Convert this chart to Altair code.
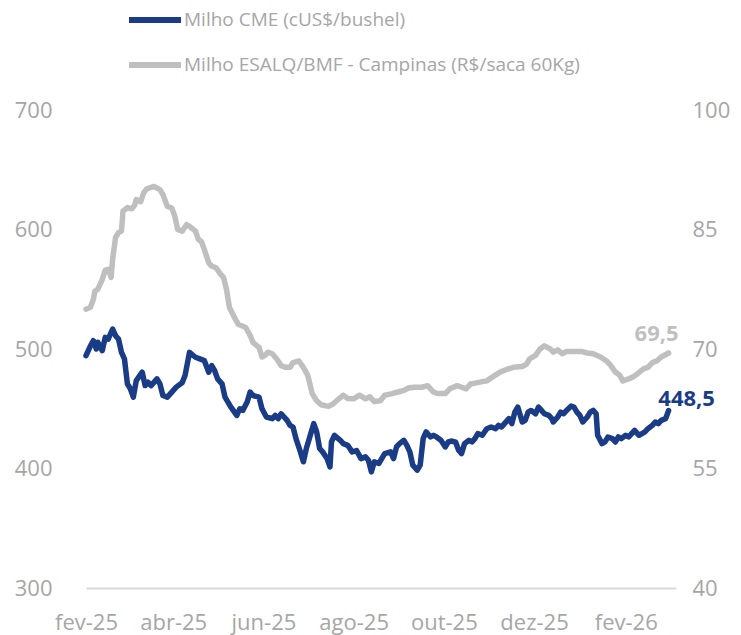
import altair as alt
import pandas as pd

# ---------------- data ----------------
series_names = ["Milho CME (cUS$/bushel)", "Milho ESALQ/BMF - Campinas (R$/saca 60Kg)"]
series_colors = ["#1A3C86", "#BFBFBF"]

cme_dates = [
    "2025-02-01", "2025-02-04", "2025-02-06", "2025-02-08", "2025-02-09", "2025-02-12", "2025-02-14",
    "2025-02-16", "2025-02-19", "2025-02-21", "2025-02-23", "2025-02-25", "2025-02-27",
    "2025-03-01", "2025-03-03", "2025-03-05", "2025-03-07", "2025-03-11", "2025-03-13", "2025-03-15",
    "2025-03-17", "2025-03-21", "2025-03-23", "2025-03-25", "2025-03-28", "2025-03-31",
    "2025-04-03", "2025-04-07", "2025-04-09", "2025-04-12", "2025-04-16", "2025-04-19", "2025-04-22",
    "2025-04-25", "2025-04-27", "2025-04-29",
    "2025-05-01", "2025-05-04", "2025-05-06", "2025-05-08", "2025-05-10", "2025-05-14", "2025-05-16",
    "2025-05-18", "2025-05-21", "2025-05-23", "2025-05-25", "2025-05-29", "2025-05-31",
    "2025-06-03", "2025-06-07", "2025-06-09", "2025-06-11", "2025-06-13", "2025-06-17", "2025-06-19",
    "2025-06-21", "2025-06-23", "2025-06-26", "2025-06-28", "2025-06-30",
    "2025-07-02", "2025-07-05", "2025-07-07", "2025-07-09", "2025-07-11", "2025-07-14", "2025-07-16",
    "2025-07-17", "2025-07-19", "2025-07-23", "2025-07-25", "2025-07-28", "2025-07-31",
    "2025-08-03", "2025-08-06", "2025-08-09", "2025-08-11", "2025-08-13", "2025-08-15", "2025-08-18",
    "2025-08-20", "2025-08-22", "2025-08-26", "2025-08-28", "2025-08-30",
    "2025-09-01", "2025-09-04", "2025-09-06", "2025-09-08", "2025-09-10", "2025-09-13", "2025-09-15",
    "2025-09-17", "2025-09-19", "2025-09-22", "2025-09-24", "2025-09-26", "2025-09-29",
    "2025-10-02", "2025-10-04", "2025-10-06", "2025-10-09", "2025-10-11", "2025-10-13", "2025-10-15",
    "2025-10-18", "2025-10-20", "2025-10-22", "2025-10-24", "2025-10-27", "2025-10-30",
    "2025-11-02", "2025-11-05", "2025-11-07", "2025-11-09", "2025-11-11", "2025-11-14", "2025-11-16",
    "2025-11-18", "2025-11-20", "2025-11-23", "2025-11-25", "2025-11-27", "2025-11-29",
    "2025-12-02", "2025-12-04", "2025-12-06", "2025-12-08", "2025-12-11", "2025-12-13", "2025-12-14",
    "2025-12-17", "2025-12-19", "2025-12-21", "2025-12-23", "2025-12-26", "2025-12-28", "2025-12-30",
    "2026-01-01", "2026-01-03", "2026-01-06", "2026-01-08", "2026-01-10", "2026-01-12", "2026-01-13",
    "2026-01-16", "2026-01-18", "2026-01-20", "2026-01-23", "2026-01-25", "2026-01-27", "2026-01-29",
    "2026-02-01", "2026-02-03", "2026-02-05", "2026-02-07", "2026-02-10", "2026-02-12", "2026-02-14",
    "2026-02-16", "2026-02-19", "2026-02-21", "2026-02-23", "2026-02-25", "2026-02-28",
    "2026-03-02",
]
cme_values = [
    494.4, 502.7, 506.9, 500.0, 505.6, 498.6, 509.7, 508.3, 516.7, 511.1, 508.3, 497.2, 491.7,
    470.8, 466.7, 459.7, 473.6, 480.6, 469.4, 472.2, 469.4, 475.0, 470.8, 461.1, 459.7, 463.9,
    468.1, 471.7, 477.8, 497.2, 493.1, 491.7, 490.3, 480.6, 486.1, 481.9,
    475.0, 470.8, 459.7, 455.6, 451.4, 444.4, 450.0, 448.6, 455.6, 463.9, 461.1, 459.7, 450.0,
    443.1, 441.7, 444.4, 441.7, 445.8, 440.3, 436.1, 434.7, 425.0, 413.9, 405.6, 416.7,
    425.0, 437.5, 430.6, 416.7, 413.9, 408.3, 401.4, 422.2, 427.8, 423.6, 420.8, 419.4, 413.9,
    415.0, 408.3, 409.7, 406.9, 397.2, 405.6, 404.2, 408.3, 412.5, 413.9, 408.3, 418.1,
    420.8, 423.6, 419.4, 413.9, 402.8, 398.6, 402.8, 425.0, 430.6, 426.4, 427.8, 426.4, 423.6,
    418.1, 422.2, 423.0, 422.0, 415.3, 412.5, 420.8, 423.6, 422.2, 425.0, 429.2, 427.8, 433.3,
    434.7, 433.3, 436.1, 434.7, 437.5, 441.7, 437.5, 447.2, 451.4, 438.9, 440.3, 447.2, 448.6,
    445.8, 451.4, 448.6, 445.8, 444.4, 441.7, 438.9, 443.1, 447.2, 445.8, 448.6, 452.2, 451.4, 447.2,
    444.4, 438.9, 443.1, 447.2, 448.6, 445.8, 427.8, 420.8, 422.2, 426.4, 425.0, 422.2, 426.4, 425.0,
    427.8, 426.4, 429.2, 431.9, 427.8, 429.2, 430.6, 433.3, 436.1, 438.9, 437.5, 440.3, 441.7,
    448.5,
]

esalq_dates = [
    "2025-02-01", "2025-02-04", "2025-02-06", "2025-02-07", "2025-02-09", "2025-02-12", "2025-02-14",
    "2025-02-16", "2025-02-18", "2025-02-19", "2025-02-21", "2025-02-23", "2025-02-25", "2025-02-26",
    "2025-03-01", "2025-03-04", "2025-03-06", "2025-03-07", "2025-03-10", "2025-03-12", "2025-03-14",
    "2025-03-19", "2025-03-23", "2025-03-25", "2025-03-28", "2025-03-31",
    "2025-04-02", "2025-04-04", "2025-04-07", "2025-04-10", "2025-04-12", "2025-04-16", "2025-04-18",
    "2025-04-20", "2025-04-22", "2025-04-25", "2025-04-27", "2025-04-30",
    "2025-05-03", "2025-05-05", "2025-05-07", "2025-05-09", "2025-05-13", "2025-05-15", "2025-05-20",
    "2025-05-23", "2025-05-25", "2025-05-29", "2025-05-31",
    "2025-06-02", "2025-06-04", "2025-06-07", "2025-06-10", "2025-06-13", "2025-06-16", "2025-06-19",
    "2025-06-21", "2025-06-25", "2025-06-28",
    "2025-07-01", "2025-07-04", "2025-07-07", "2025-07-10", "2025-07-15", "2025-07-18", "2025-07-22",
    "2025-07-25", "2025-07-28",
    "2025-08-01", "2025-08-05", "2025-08-09", "2025-08-12", "2025-08-15", "2025-08-19", "2025-08-22",
    "2025-08-27", "2025-08-31",
    "2025-09-04", "2025-09-07", "2025-09-11", "2025-09-16", "2025-09-20", "2025-09-24", "2025-09-27",
    "2025-10-02", "2025-10-05", "2025-10-10", "2025-10-13", "2025-10-16", "2025-10-19", "2025-10-23",
    "2025-10-27", "2025-10-30",
    "2025-11-03", "2025-11-08", "2025-11-12", "2025-11-17", "2025-11-23", "2025-11-26", "2025-11-28",
    "2025-12-02", "2025-12-05", "2025-12-08", "2025-12-12", "2025-12-14", "2025-12-17", "2025-12-20",
    "2025-12-23", "2025-12-28",
    "2026-01-02", "2026-01-06", "2026-01-10", "2026-01-15", "2026-01-19", "2026-01-22", "2026-01-25",
    "2026-01-28", "2026-01-30",
    "2026-02-03", "2026-02-06", "2026-02-09", "2026-02-13", "2026-02-16", "2026-02-19", "2026-02-22",
    "2026-02-25",
    "2026-03-02",
]
esalq_values = [
    75.0, 75.25, 76.25, 77.25, 77.5, 78.75, 79.9, 80.0, 79.0, 81.25, 84.0, 84.6, 84.8, 87.3,
    87.75, 87.6, 88.1, 88.75, 88.5, 89.6, 90.1, 90.4, 90.0, 89.4, 87.9, 87.7,
    86.7, 85.0, 84.8, 85.6, 85.4, 84.8, 83.75, 83.5, 82.5, 80.8, 80.4, 80.2,
    79.4, 79.0, 77.5, 75.2, 73.75, 73.1, 72.7, 71.7, 70.8, 70.2, 69.0,
    69.2, 69.6, 69.4, 68.75, 67.9, 67.7, 67.7, 68.3, 68.5, 67.7,
    66.7, 64.4, 63.5, 63.0, 62.8, 63.1, 63.75, 64.2, 63.8,
    63.75, 64.2, 63.75, 64.0, 63.4, 63.5, 64.2, 64.4, 64.6,
    64.8, 65.1, 65.2, 65.2, 65.4, 64.6, 64.4,
    64.4, 65.0, 65.4, 65.2, 65.0, 65.6, 65.75, 65.9, 66.0,
    66.5, 67.1, 67.4, 67.7, 67.8, 68.1, 68.75,
    69.2, 70.0, 70.4, 70.0, 69.6, 69.9, 69.4, 69.7, 69.7,
    69.7, 69.5, 69.4, 69.0, 68.5, 67.9, 67.1, 66.7, 66.0,
    66.25, 66.5, 66.9, 67.5, 67.7, 68.3, 68.5, 69.0,
    69.5,
]

x_tick_dates = ["2025-02-01", "2025-04-01", "2025-06-01", "2025-08-01",
                "2025-10-01", "2025-12-01", "2026-02-01"]
x_domain_dates = ["2025-02-01", "2026-03-07"]
left_ticks = [300, 400, 500, 600, 700]
right_ticks = [40, 55, 70, 85, 100]
month_abbr = ["jan", "fev", "mar", "abr", "mai", "jun", "jul", "ago", "set", "out", "nov", "dez"]

# ---------------- build ----------------
def ts(d):
    return int(pd.Timestamp(d, tz="UTC").value // 10**6)

def br(v):
    return f"{v:.1f}".replace(".", ",")

cme = pd.DataFrame({"date": cme_dates, "value": cme_values, "serie": series_names[0]})
esalq = pd.DataFrame({"date": esalq_dates, "value": esalq_values, "serie": series_names[1]})
cme_last = pd.DataFrame({"date": [cme_dates[-1]], "value": [cme_values[-1]], "label": [br(cme_values[-1])]})
esalq_last = pd.DataFrame({"date": [esalq_dates[-1]], "value": [esalq_values[-1]], "label": [br(esalq_values[-1])]})

AX_COLOR = "#A6A6A6"
AX_FONT = "Open Sans"
AX_SIZE = 22

month_js = "[" + ",".join(f"'{m}'" for m in month_abbr) + "]"

x_enc = alt.X(
    "date:T",
    scale=alt.Scale(type="utc", domain=[ts(d) for d in x_domain_dates]),
    axis=alt.Axis(
        values=[ts(d) for d in x_tick_dates],
        labelExpr=month_js + "[utcmonth(datum.value)] + '-' + utcFormat(datum.value, '%y')",
        title=None, grid=False, ticks=False, tickSize=0,
        domainColor="#D9D9D9", domainWidth=2,
        labelFont=AX_FONT, labelFontSize=AX_SIZE, labelColor=AX_COLOR,
        labelPadding=24, labelFlush=False, labelOverlap=False,
    ),
)

y_left = alt.Y(
    "value:Q",
    scale=alt.Scale(domain=[300, 700], nice=False, zero=False),
    axis=alt.Axis(
        orient="left", values=left_ticks, title=None, grid=False, ticks=False, tickSize=0,
        domain=False, labelFont=AX_FONT, labelFontSize=AX_SIZE, labelColor=AX_COLOR,
        labelPadding=34,
    ),
)
y_right = alt.Y(
    "value:Q",
    scale=alt.Scale(domain=[40, 100], nice=False, zero=False),
    axis=alt.Axis(
        orient="right", values=right_ticks, title=None, grid=False, ticks=False, tickSize=0,
        domain=False, labelFont=AX_FONT, labelFontSize=AX_SIZE, labelColor=AX_COLOR,
        labelPadding=16,
    ),
)

color_enc = alt.Color(
    "serie:N",
    scale=alt.Scale(domain=series_names, range=series_colors),
    legend=alt.Legend(
        title=None, orient="none", legendX=40, legendY=-119, direction="vertical",
        symbolType="stroke", symbolSize=2704, symbolStrokeWidth=6,
        labelFont="Open Sans", labelFontSize=19, labelColor=AX_COLOR,
        labelOffset=0, rowPadding=4, labelLimit=600,
    ),
)

line_cme = alt.Chart(cme).mark_line(strokeWidth=5.5, strokeCap="round", strokeJoin="round").encode(
    x=x_enc, y=y_left, color=color_enc
)
text_cme = alt.Chart(cme_last).mark_text(
    font="Open Sans", fontSize=22, fontWeight="bold", color=series_colors[0],
    align="center", baseline="alphabetic", dx=18, dy=-5,
).encode(x=x_enc, y=y_left, text="label:N")

line_esalq = alt.Chart(esalq).mark_line(strokeWidth=5.5, strokeCap="round", strokeJoin="round").encode(
    x=x_enc, y=y_right, color=color_enc
)
text_esalq = alt.Chart(esalq_last).mark_text(
    font="Open Sans", fontSize=22, fontWeight="bold", color=series_colors[1],
    align="center", baseline="alphabetic", dx=-12, dy=-12,
).encode(x=x_enc, y=y_right, text="label:N")

left = alt.layer(line_cme, text_cme)
right = alt.layer(line_esalq, text_esalq)

chart = (
    alt.layer(left, right)
    .resolve_scale(y="independent")
    .properties(
        width=590, height=478,
        autosize=alt.AutoSizeParams(type="none"),
        padding={"left": 78, "top": 102, "right": 57, "bottom": 47},
        background="white",
    )
    .configure_view(stroke=None)
)

chart.save("out.html", embed_options={"renderer": "svg", "actions": False})
